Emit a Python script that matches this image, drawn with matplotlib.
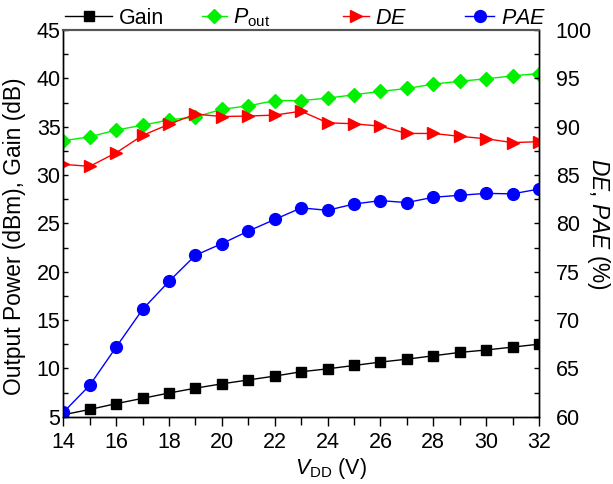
import matplotlib
matplotlib.use("Agg")
import matplotlib.pyplot as plt
from matplotlib.ticker import MultipleLocator

plt.rcParams['font.family'] = ['Liberation Sans', 'DejaVu Sans']
plt.rcParams['mathtext.fontset'] = 'custom'
plt.rcParams['mathtext.rm'] = 'Liberation Sans'
plt.rcParams['mathtext.it'] = 'Liberation Sans:italic'

vdd = [14, 15, 16, 17, 18, 19, 20, 21, 22, 23, 24, 25, 26, 27, 28, 29, 30, 31, 32]
gain = [5.2, 5.75, 6.35, 6.9, 7.45, 7.95, 8.4, 8.8, 9.2, 9.65, 9.95, 10.3, 10.65, 10.95, 11.3, 11.65, 11.9, 12.2, 12.5]
pout = [33.55, 33.95, 34.65, 35.15, 35.7, 36.0, 36.8, 37.15, 37.7, 37.7, 37.95, 38.3, 38.65, 38.95, 39.4, 39.7, 39.95, 40.25, 40.5]
de = [86.1, 85.9, 87.3, 89.1, 90.25, 91.3, 91.05, 91.1, 91.2, 91.6, 90.4, 90.3, 90.05, 89.3, 89.3, 89.0, 88.75, 88.35, 88.45]
pae = [60.45, 63.25, 67.2, 71.1, 74.0, 76.7, 77.9, 79.2, 80.4, 81.6, 81.35, 82.0, 82.35, 82.15, 82.7, 82.9, 83.1, 83.05, 83.55]

W, H = 613, 484
fig = plt.figure(figsize=(W / 100, H / 100), dpi=100)
ax = fig.add_axes([63.3 / W, 1 - 416.7 / H, (539 - 63.3) / W, (416.7 - 30) / H])
ax2 = ax.twinx()

fs = 15.5
fsl = 16.4
l1, = ax.plot(vdd, gain, color='black', marker='s', ms=7, lw=1, label='Gain')
l2, = ax.plot(vdd, pout, color='#00f000', marker='D', ms=7.5, lw=1, label=r'$\mathit{P}_{\mathrm{out}}$')
l3, = ax2.plot(vdd, de, color='red', marker='>', ms=9, lw=1, label=r'$\mathit{DE}$')
l4, = ax2.plot(vdd, pae, color='blue', marker='o', ms=8.5, lw=1, label=r'$\mathit{PAE}$')

ax.set_xlim(14, 32)
ax.set_ylim(5, 45)
ax2.set_ylim(60, 100)
ax.xaxis.set_major_locator(MultipleLocator(2))
ax.xaxis.set_minor_locator(MultipleLocator(1))
ax.yaxis.set_major_locator(MultipleLocator(5))
ax.yaxis.set_minor_locator(MultipleLocator(2.5))
ax2.yaxis.set_major_locator(MultipleLocator(5))
ax2.yaxis.set_minor_locator(MultipleLocator(2.5))

ax.tick_params(axis='x', which='major', direction='out', length=6.5, width=1, labelsize=fs, pad=4.5)
ax.tick_params(axis='x', which='minor', direction='out', length=6, width=1)
ax.tick_params(axis='y', which='both', direction='in', length=3.5, width=1, labelsize=fs, pad=2)
ax2.tick_params(axis='y', which='both', direction='in', length=3.5, width=1, labelsize=fs, pad=12)

for s in list(ax.spines.values()) + list(ax2.spines.values()):
    s.set_linewidth(1)
ax.spines['top'].set_color('#555555')
ax2.spines['top'].set_color('#555555')
ax.spines['top'].set_linewidth(1.5)
ax2.spines['top'].set_linewidth(1.5)

ax.set_xlabel(r'$\mathit{V}_{\mathrm{DD}}$ (V)', fontsize=fs)
ax.xaxis.set_label_coords(0.563, -0.1016)
ax.set_ylabel('Output Power (dBm), Gain (dB)', fontsize=fsl)
ax.yaxis.set_label_coords(-0.078, 0.466)
ax2.set_ylabel(r'$\mathit{DE}$, $\mathit{PAE}$ (%)', fontsize=fsl, rotation=-90)
ax2.yaxis.set_label_coords(1.1535, 0.498)

legend_specs = [(l1, 65, 2.2), (l2, 202, 1.15), (l3, 343, 1.2), (l4, 465, 1.35)]
for handle, xpx, hl in legend_specs:
    lg = fig.legend(handles=[handle], loc='center left', bbox_to_anchor=(xpx / W, 1 - 18 / H),
                    frameon=False, fontsize=fs, handlelength=hl, handletextpad=0.3,
                    borderpad=0, borderaxespad=0)

fig.savefig('out.png', dpi=100)
